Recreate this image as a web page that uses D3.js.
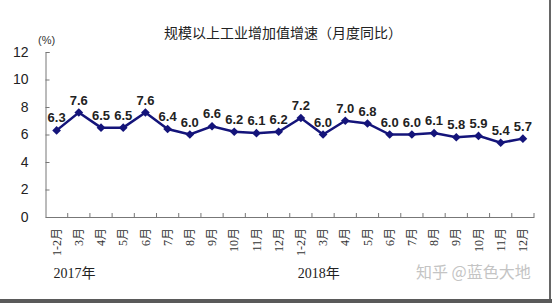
<!DOCTYPE html>
<html>
<head>
<meta charset="utf-8">
<script src="https://cdn.jsdelivr.net/npm/d3@7"></script>
<style>
  body { margin: 0; background: #fff; }
  svg { display: block; }
</style>
</head>
<body>
<div id="chart"></div>
<script>
// monthly labels, 2017 then 2018
const months = ["1-2月","3月","4月","5月","6月","7月","8月","9月","10月","11月","12月",
                "1-2月","3月","4月","5月","6月","7月","8月","9月","10月","11月","12月"];
const growth = [6.3,7.6,6.5,6.5,7.6,6.4,6.0,6.6,6.2,6.1,6.2,
                7.2,6.0,7.0,6.8,6.0,6.0,6.1,5.8,5.9,5.4,5.7];
const years = [{ label: "2017年", start: 0 }, { label: "2018年", start: 11 }];
const yTicks = [0, 2, 4, 6, 8, 10, 12];

const width = 552, height = 303;
const svg = d3.select("#chart").append("svg")
    .attr("width", width)
    .attr("height", height);

const x = d3.scaleBand()
    .domain(d3.range(months.length))
    .range([45.5, 534])
    .padding(0);

const y = d3.scaleLinear()
    .domain([0, 12])
    .range([217, 52]);

// title
svg.append("text")
    .attr("x", 283).attr("y", 38)
    .attr("text-anchor", "middle")
    .style("font-family", "'Noto Sans CJK SC', sans-serif")
    .style("font-size", "14px")
    .attr("fill", "#222")
    .text("规模以上工业增加值增速（月度同比）");

svg.append("text")
    .attr("x", 38).attr("y", 44)
    .style("font-family", "'Liberation Sans', Arial, sans-serif")
    .style("font-size", "11px")
    .attr("fill", "#333")
    .text("(%)");

// y axis
const yAxis = svg.append("g")
    .attr("transform", "translate(45.5,0)")
    .call(d3.axisLeft(y).tickValues(yTicks).tickSize(-4).tickPadding(17));
yAxis.select(".domain").attr("stroke", "#777");
yAxis.selectAll(".tick line").attr("stroke", "#777");
yAxis.selectAll("text")
    .style("font-family", "'Liberation Sans', Arial, sans-serif")
    .style("font-size", "14px")
    .attr("fill", "#222");

// x axis
const xAxis = svg.append("g")
    .attr("transform", "translate(0,217)")
    .call(d3.axisBottom(x).tickSize(0).tickFormat(i => months[i]));
xAxis.select(".domain").attr("stroke", "#777");
xAxis.selectAll("text")
    .attr("transform", "rotate(-90)")
    .attr("text-anchor", "end")
    .attr("dy", "0.35em")
    .attr("x", -11)
    .attr("y", 0)
    .style("font-family", "'Liberation Serif', 'Noto Sans CJK SC', serif")
    .style("font-size", "12px")
    .attr("fill", "#333");

// tick marks on band boundaries, pointing up
const boundaries = d3.range(1, months.length).map(i => x(i)).concat([x.range()[1]]);
svg.append("g").selectAll("line")
    .data(boundaries)
    .join("line")
    .attr("x1", d => d).attr("x2", d => d)
    .attr("y1", 217).attr("y2", 213)
    .attr("stroke", "#777");

// year labels
svg.append("g").selectAll("text")
    .data(years)
    .join("text")
    .attr("x", d => x(d.start) + 8)
    .attr("y", 278)
    .style("font-family", "'Liberation Serif', 'Noto Sans CJK SC', serif")
    .style("font-size", "14px")
    .attr("fill", "#222")
    .text(d => d.label);

// line
const cx = i => x(i) + x.bandwidth() / 2;
svg.append("path")
    .datum(growth)
    .attr("fill", "none")
    .attr("stroke", "#14147a")
    .attr("stroke-width", 2.5)
    .attr("d", d3.line().x((d, i) => cx(i)).y(d => y(d)));

svg.append("g").selectAll("path")
    .data(growth)
    .join("path")
    .attr("transform", (d, i) => `translate(${cx(i)},${y(d)}) rotate(45)`)
    .attr("d", d3.symbol(d3.symbolSquare, 38))
    .attr("fill", "#14147a");

// value labels
svg.append("g").selectAll("text")
    .data(growth)
    .join("text")
    .attr("x", (d, i) => cx(i))
    .attr("y", d => y(d) - 8)
    .attr("text-anchor", "middle")
    .style("font-family", "'Liberation Sans', Arial, sans-serif")
    .style("font-size", "13px")
    .style("font-weight", "bold")
    .attr("fill", "#222")
    .text(d => d.toFixed(1));

// watermark
svg.append("text")
    .attr("x", 416).attr("y", 278)
    .style("font-family", "'Noto Sans CJK SC', sans-serif")
    .style("font-size", "16px")
    .attr("fill", "#c4c4c4")
    .text("知乎 @蓝色大地");

// frame at right and bottom
svg.append("rect").attr("x", 549).attr("y", 0).attr("width", 2).attr("height", 303).attr("fill", "#666");
svg.append("rect").attr("x", 0).attr("y", 299).attr("width", 552).attr("height", 4).attr("fill", "#5a5a5a");
</script>
</body>
</html>
